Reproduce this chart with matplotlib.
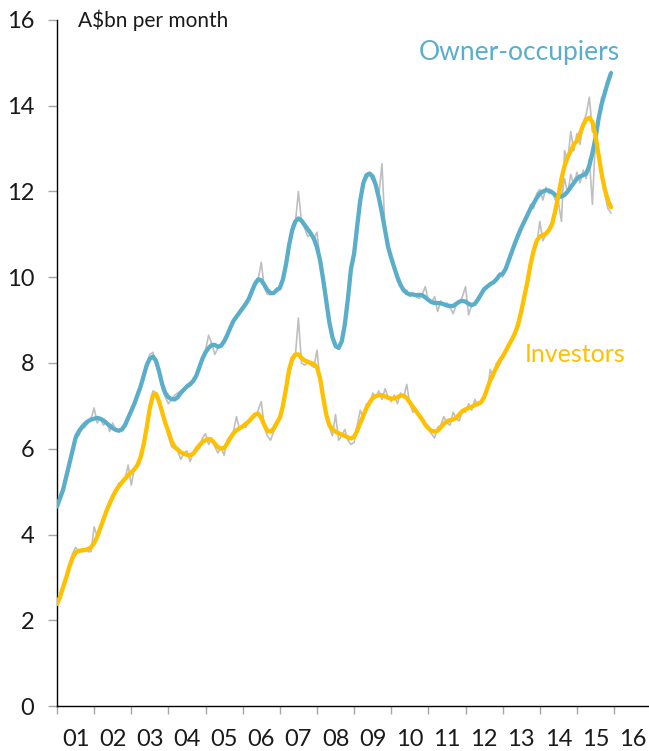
import numpy as np
import matplotlib
matplotlib.use("Agg")
import matplotlib.pyplot as plt

# monthly data, Jan 2001 - Dec 2015 (A$bn per month)
owner_trend = [
    4.65, 4.85, 5.05, 5.35, 5.65, 5.95, 6.25, 6.40, 6.50, 6.58, 6.64, 6.68,
    6.70, 6.72, 6.70, 6.66, 6.60, 6.54, 6.48, 6.44, 6.42, 6.45, 6.55, 6.72,
    6.88, 7.05, 7.25, 7.45, 7.70, 7.95, 8.10, 8.15, 8.05, 7.80, 7.50, 7.30,
    7.20, 7.16, 7.15, 7.20, 7.30, 7.38, 7.45, 7.50, 7.58, 7.70, 7.90, 8.10,
    8.25, 8.35, 8.42, 8.42, 8.38, 8.40, 8.50, 8.65, 8.82, 8.98, 9.08, 9.18,
    9.28, 9.38, 9.50, 9.68, 9.85, 9.95, 9.93, 9.82, 9.70, 9.63, 9.63, 9.70,
    9.75, 9.95, 10.30, 10.75, 11.10, 11.30, 11.37, 11.32, 11.22, 11.12, 11.02, 10.90,
    10.70, 10.40, 9.95, 9.45, 8.95, 8.60, 8.40, 8.35, 8.50, 8.90, 9.50, 10.20,
    10.55, 11.20, 11.80, 12.20, 12.38, 12.42, 12.35, 12.15, 11.85, 11.50, 11.10, 10.70,
    10.45, 10.22, 10.00, 9.82, 9.70, 9.63, 9.60, 9.60, 9.58, 9.59, 9.58, 9.53,
    9.47, 9.42, 9.40, 9.40, 9.39, 9.37, 9.34, 9.33, 9.33, 9.38, 9.43, 9.45,
    9.43, 9.38, 9.35, 9.38, 9.48, 9.60, 9.72, 9.78, 9.84, 9.88, 9.95, 10.05,
    10.08, 10.20, 10.40, 10.60, 10.80, 10.98, 11.15, 11.30, 11.45, 11.60, 11.72, 11.85,
    11.95, 12.00, 12.03, 12.02, 11.98, 11.92, 11.88, 11.88, 11.92, 12.00, 12.10, 12.20,
    12.30, 12.35, 12.38, 12.42, 12.60, 12.90, 13.25, 13.70, 14.05, 14.30, 14.55, 14.76,
]
owner_raw = [
    4.70, 4.80, 5.10, 5.30, 5.70, 6.00, 6.35, 6.30, 6.45, 6.50, 6.60, 6.70,
    6.95, 6.60, 6.70, 6.55, 6.65, 6.40, 6.60, 6.45, 6.40, 6.50, 6.60, 6.75,
    6.95, 7.10, 7.20, 7.50, 7.60, 8.00, 8.20, 8.25, 7.95, 7.90, 7.40, 7.20,
    7.05, 7.15, 7.25, 7.30, 7.35, 7.40, 7.50, 7.55, 7.60, 7.75, 7.95, 8.10,
    8.30, 8.65, 8.45, 8.20, 8.35, 8.45, 8.55, 8.60, 8.85, 9.00, 9.05, 9.20,
    9.25, 9.40, 9.55, 9.60, 9.90, 9.95, 10.35, 9.75, 9.60, 9.60, 9.65, 9.75,
    9.70, 9.95, 10.30, 10.80, 11.20, 11.25, 12.00, 11.30, 11.15, 10.95, 11.00, 10.90,
    11.05, 10.40, 9.90, 9.40, 8.90, 8.60, 8.35, 8.40, 8.55, 8.85, 9.55, 10.25,
    10.50, 11.25, 11.85, 12.25, 12.30, 12.40, 12.25, 12.20, 11.90, 12.65, 11.10, 10.75,
    10.40, 10.20, 9.90, 9.80, 9.65, 9.70, 9.55, 9.60, 9.55, 9.50, 9.60, 9.78,
    9.45, 9.40, 9.55, 9.20, 9.45, 9.35, 9.40, 9.30, 9.15, 9.35, 9.40, 9.55,
    9.78, 9.12, 9.35, 9.40, 9.50, 9.55, 9.75, 9.80, 9.85, 9.90, 9.95, 10.10,
    10.00, 10.25, 10.45, 10.55, 10.85, 10.90, 11.10, 11.35, 11.40, 11.70, 11.60, 11.95,
    12.05, 11.80, 12.10, 11.95, 12.00, 11.80, 11.95, 11.90, 12.30, 11.95, 12.40, 12.15,
    12.45, 12.20, 12.50, 12.30, 12.75, 11.70, 13.25, 13.60, 14.20, 14.25, 14.50, 14.80,
]
investor_trend = [
    2.38, 2.55, 2.78, 3.00, 3.25, 3.45, 3.58, 3.62, 3.63, 3.64, 3.66, 3.70,
    3.80, 3.95, 4.15, 4.35, 4.55, 4.72, 4.88, 5.02, 5.13, 5.22, 5.30, 5.38,
    5.45, 5.52, 5.62, 5.80, 6.10, 6.50, 6.95, 7.25, 7.28, 7.10, 6.85, 6.60,
    6.40, 6.18, 6.05, 5.98, 5.92, 5.88, 5.86, 5.85, 5.88, 5.98, 6.08, 6.16,
    6.20, 6.23, 6.20, 6.12, 6.04, 6.00, 6.02, 6.12, 6.25, 6.36, 6.43, 6.48,
    6.52, 6.58, 6.64, 6.72, 6.80, 6.82, 6.72, 6.55, 6.42, 6.40, 6.47, 6.60,
    6.72, 7.00, 7.40, 7.85, 8.10, 8.20, 8.20, 8.12, 8.06, 8.03, 8.00, 7.98,
    7.90, 7.65, 7.20, 6.80, 6.55, 6.45, 6.40, 6.36, 6.33, 6.30, 6.26, 6.24,
    6.28, 6.42, 6.60, 6.78, 6.95, 7.08, 7.18, 7.23, 7.25, 7.25, 7.22, 7.19,
    7.17, 7.17, 7.20, 7.24, 7.24, 7.18, 7.08, 6.98, 6.88, 6.78, 6.68, 6.56,
    6.48, 6.42, 6.40, 6.42, 6.50, 6.58, 6.64, 6.67, 6.68, 6.72, 6.80, 6.88,
    6.92, 6.95, 6.98, 7.02, 7.05, 7.08, 7.20, 7.40, 7.60, 7.75, 7.90, 8.05,
    8.15, 8.28, 8.42, 8.55, 8.70, 8.90, 9.20, 9.55, 9.90, 10.30, 10.62, 10.85,
    10.95, 10.98, 11.02, 11.10, 11.25, 11.55, 11.90, 12.30, 12.60, 12.80, 12.95, 13.10,
    13.18, 13.35, 13.55, 13.68, 13.72, 13.62, 13.30, 12.85, 12.40, 12.05, 11.80, 11.63,
]
investor_raw = [
    2.40, 2.60, 2.75, 3.00, 3.30, 3.55, 3.70, 3.60, 3.60, 3.65, 3.60, 3.60,
    4.18, 3.95, 4.15, 4.40, 4.50, 4.75, 4.95, 5.00, 5.20, 5.20, 5.30, 5.62,
    5.15, 5.55, 5.65, 5.85, 6.15, 6.55, 7.00, 7.35, 7.30, 7.05, 6.80, 6.65,
    6.30, 6.05, 6.00, 5.95, 5.75, 5.90, 5.95, 5.70, 5.90, 6.05, 6.00, 6.25,
    6.35, 6.10, 6.25, 6.05, 5.90, 6.05, 5.85, 6.20, 6.30, 6.40, 6.75, 6.45,
    6.55, 6.50, 6.65, 6.70, 6.75, 6.90, 7.10, 6.50, 6.30, 6.20, 6.40, 6.55,
    6.70, 6.90, 7.45, 7.70, 8.00, 8.15, 9.05, 8.00, 7.95, 8.00, 7.95, 7.90,
    8.30, 7.60, 7.10, 6.75, 6.50, 6.30, 6.80, 6.20, 6.30, 6.45, 6.20, 6.10,
    6.15, 6.55, 6.90, 6.70, 7.05, 7.00, 7.30, 7.20, 7.35, 7.15, 7.40, 7.20,
    7.10, 7.25, 7.05, 7.30, 7.20, 7.50, 7.05, 6.85, 6.90, 6.75, 6.70, 6.60,
    6.45, 6.35, 6.25, 6.50, 6.55, 6.75, 6.60, 6.55, 6.85, 6.70, 6.65, 6.90,
    6.85, 7.05, 6.90, 7.15, 7.00, 7.10, 7.25, 7.30, 7.85, 7.65, 8.00, 7.95,
    8.20, 8.30, 8.45, 8.55, 8.75, 9.00, 9.30, 9.55, 9.95, 10.35, 10.60, 10.75,
    11.30, 10.85, 11.00, 11.15, 11.25, 11.45, 11.75, 11.30, 12.95, 12.70, 13.40, 12.95,
    13.35, 13.10, 13.60, 13.80, 14.20, 13.40, 13.35, 12.90, 12.30, 11.95, 11.60, 11.50,
]
year_labels = ['01', '02', '03', '04', '05', '06', '07', '08',
               '09', '10', '11', '12', '13', '14', '15', '16']

blue = '#5AAEC9'
yellow = '#FFC000'
grey = '#BFBFBF'

plt.rcParams['font.family'] = ['Lato', 'DejaVu Sans']

months = 2001 + np.arange(len(owner_trend)) / 12

fig = plt.figure(figsize=(6.49, 7.51), dpi=100)
ax = fig.add_axes([0.0878, 0.0599, 0.9122, 0.9135])

ax.plot(months, owner_raw, color=grey, lw=1.2, zorder=1)
ax.plot(months, investor_raw, color=grey, lw=1.2, zorder=1)
ax.plot(months, owner_trend, color=blue, lw=3.1, zorder=3, solid_capstyle='round')
ax.plot(months, investor_trend, color=yellow, lw=3.1, zorder=4, solid_capstyle='round')

ax.set_xlim(2001, 2016.94)
ax.set_ylim(0, 16)

ax.set_yticks(np.arange(0, 17, 2))
ax.tick_params(axis='y', direction='out', length=6.5, width=1, color='#A6A6A6',
               labelsize=17, pad=10, labelcolor='#1A1A1A')

ax.set_xticks(np.arange(2001, 2017))
ax.set_xticklabels([])
ax.set_xticks(np.arange(2001, 2017) + 0.5, minor=True)
ax.set_xticklabels(year_labels, minor=True)
ax.tick_params(axis='x', which='major', direction='out', length=6, width=1, color='#A6A6A6')
ax.tick_params(axis='x', which='minor', length=0, labelsize=17, pad=16.5, labelcolor='#1A1A1A')

for s in ['top', 'right']:
    ax.spines[s].set_visible(False)
for s in ['left', 'bottom']:
    ax.spines[s].set_color('black')
    ax.spines[s].set_linewidth(1.0)

ax.text(2001.57, 16.0, 'A$bn per month', fontsize=15, color='#1A1A1A', va='center', ha='left')
ax.text(2016.16, 15.23, 'Owner-occupiers', fontsize=19, color=blue, va='center', ha='right')
ax.text(2016.30, 8.19, 'Investors', fontsize=18, color=yellow, va='center', ha='right')

fig.savefig('out.png', dpi=100)
